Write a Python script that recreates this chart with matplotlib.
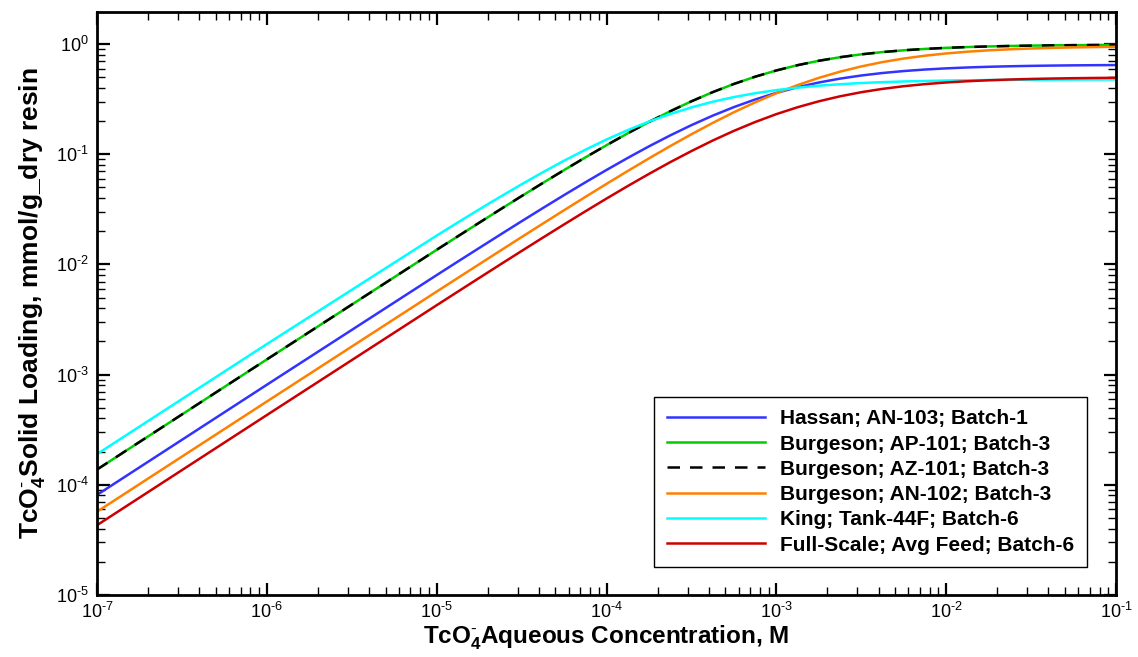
import matplotlib
matplotlib.use('Agg')
import matplotlib.pyplot as plt
from matplotlib.ticker import LogLocator, NullFormatter

plt.rcParams['font.family'] = ['Liberation Sans', 'DejaVu Sans']
plt.rcParams['mathtext.fontset'] = 'custom'
plt.rcParams['mathtext.rm'] = 'Liberation Sans'
plt.rcParams['mathtext.it'] = 'Liberation Sans:italic'
plt.rcParams['mathtext.bf'] = 'Liberation Sans:bold'
plt.rcParams['mathtext.default'] = 'regular'

# aqueous TcO4- concentration, M
conc = [1e-7, 1e-6,
        1e-5, 1.334e-5, 1.78e-5, 2.371e-5, 3.16e-5, 4.217e-5, 5.62e-5, 7.499e-5,
        1e-4, 1.334e-4, 1.78e-4, 2.371e-4, 3.16e-4, 4.217e-4, 5.62e-4, 7.499e-4,
        1e-3, 1.334e-3, 1.78e-3, 2.371e-3, 3.16e-3, 4.217e-3, 5.62e-3, 7.499e-3,
        1e-2, 1.334e-2, 1.78e-2, 2.371e-2, 3.16e-2, 4.217e-2, 5.62e-2, 7.499e-2,
        1e-1]

# solid loading, mmol/g dry resin
hassan_an103 = [8.10e-5, 8.09e-4,
                8.00e-3, 1.063e-2, 1.410e-2, 1.865e-2, 2.462e-2, 3.245e-2, 4.254e-2, 5.554e-2,
                0.0720, 0.0926, 0.1180, 0.1482, 0.1836, 0.2239, 0.2677, 0.3140,
                0.3606, 0.4058, 0.4480, 0.4856, 0.5183, 0.5461, 0.5688, 0.5872,
                0.6017, 0.6131, 0.6220, 0.6287, 0.6339, 0.6379, 0.6409, 0.6431,
                0.6448]
burgeson_ap101 = [1.376e-4, 1.374e-3,
                  1.357e-2, 1.802e-2, 2.390e-2, 3.159e-2, 4.166e-2, 5.482e-2, 7.173e-2, 9.345e-2,
                  0.1208, 0.1549, 0.1964, 0.2454, 0.3021, 0.3659, 0.4342, 0.5053,
                  0.5758, 0.6432, 0.7050, 0.7595, 0.8064, 0.8457, 0.8777, 0.9033,
                  0.9236, 0.9393, 0.9515, 0.9608, 0.9680, 0.9734, 0.9775, 0.9806,
                  0.9829]
burgeson_az101 = [1.376e-4, 1.374e-3,
                  1.357e-2, 1.802e-2, 2.390e-2, 3.159e-2, 4.166e-2, 5.482e-2, 7.173e-2, 9.345e-2,
                  0.1208, 0.1549, 0.1964, 0.2454, 0.3021, 0.3659, 0.4342, 0.5053,
                  0.5758, 0.6432, 0.7050, 0.7595, 0.8064, 0.8457, 0.8777, 0.9033,
                  0.9236, 0.9393, 0.9515, 0.9608, 0.9680, 0.9734, 0.9775, 0.9806,
                  0.9829]
burgeson_an102 = [5.70e-5, 5.70e-4,
                  5.669e-3, 7.547e-3, 1.004e-2, 1.333e-2, 1.769e-2, 2.346e-2, 3.101e-2, 4.094e-2,
                  5.383e-2, 7.049e-2, 9.180e-2, 0.1185, 0.1517, 0.1923, 0.2403, 0.2958,
                  0.3577, 0.4244, 0.4934, 0.5614, 0.6263, 0.6861, 0.7387, 0.7840,
                  0.8217, 0.8524, 0.8771, 0.8964, 0.9114, 0.9231, 0.9321, 0.9389,
                  0.9441]
king_44f = [1.899e-4, 1.893e-3,
            1.827e-2, 2.407e-2, 3.159e-2, 4.117e-2, 5.334e-2, 6.862e-2, 8.728e-2, 0.1098,
            0.1360, 0.1656, 0.1981, 0.2319, 0.2661, 0.2994, 0.3302, 0.3579,
            0.3819, 0.4022, 0.4188, 0.4321, 0.4428, 0.4511, 0.4575, 0.4625,
            0.4663, 0.4692, 0.4713, 0.4730, 0.4742, 0.4752, 0.4759, 0.4764,
            0.4768]
fullscale_avg = [4.30e-5, 4.296e-4,
                 4.263e-3, 5.671e-3, 7.539e-3, 9.992e-3, 1.323e-2, 1.750e-2, 2.305e-2, 3.029e-2,
                 3.960e-2, 5.146e-2, 6.638e-2, 8.469e-2, 0.1068, 0.1331, 0.1629, 0.1960,
                 0.2312, 0.2671, 0.3024, 0.3355, 0.3655, 0.3919, 0.4143, 0.4329,
                 0.4479, 0.4599, 0.4693, 0.4766, 0.4823, 0.4866, 0.4899, 0.4924,
                 0.4943]

x_ticks = [1e-7, 1e-6, 1e-5, 1e-4, 1e-3, 1e-2, 1e-1]
x_tick_labels = [r'$10^{\text{-7}}$', r'$10^{\text{-6}}$', r'$10^{\text{-5}}$', r'$10^{\text{-4}}$',
                 r'$10^{\text{-3}}$', r'$10^{\text{-2}}$', r'$10^{\text{-1}}$']
y_ticks = [1e-5, 1e-4, 1e-3, 1e-2, 1e-1, 1e0]
y_tick_labels = [r'$10^{\text{-5}}$', r'$10^{\text{-4}}$', r'$10^{\text{-3}}$', r'$10^{\text{-2}}$',
                 r'$10^{\text{-1}}$', r'$10^{0}$']

fig = plt.figure(figsize=(11.38, 6.57), dpi=100)
ax = fig.add_axes([97/1138, 1 - 595/657, 1019/1138, 583/657])

lw = 1.8
ax.plot(conc, hassan_an103, color='#3333ff', lw=lw, label='Hassan; AN-103; Batch-1')
ax.plot(conc, burgeson_ap101, color='#00cc00', lw=lw, label='Burgeson; AP-101; Batch-3')
ax.plot(conc, burgeson_az101, color='black', lw=lw, dashes=(5, 4), label='Burgeson; AZ-101; Batch-3')
ax.plot(conc, burgeson_an102, color='#ff8000', lw=lw, label='Burgeson; AN-102; Batch-3')
ax.plot(conc, king_44f, color='#00ffff', lw=lw, label='King; Tank-44F; Batch-6')
ax.plot(conc, fullscale_avg, color='#cc0000', lw=lw, label='Full-Scale; Avg Feed; Batch-6')

ax.set_xscale('log')
ax.set_yscale('log')
ax.set_xlim(1e-7, 1e-1)
ax.set_ylim(1e-5, 1.954)

ax.set_xticks(x_ticks)
ax.set_xticklabels(x_tick_labels)
ax.set_yticks(y_ticks)
ax.set_yticklabels(y_tick_labels)
ax.xaxis.set_minor_locator(LogLocator(base=10, subs=range(2, 10), numticks=20))
ax.yaxis.set_minor_locator(LogLocator(base=10, subs=range(2, 10), numticks=20))
ax.xaxis.set_minor_formatter(NullFormatter())
ax.yaxis.set_minor_formatter(NullFormatter())

ax.tick_params(which='both', direction='in', top=True, right=True, labelsize=13)
ax.tick_params(which='major', length=9, width=1.6)
ax.tick_params(which='minor', length=5.5, width=1)
ax.tick_params(axis='x', pad=5)
ax.tick_params(axis='y', pad=6)
for s in ax.spines.values():
    s.set_linewidth(2)

ax.set_xlabel(r'TcO$_4^{\text{-}}$Aqueous Concentration, M', fontsize=17.5, fontweight='bold', labelpad=1)
ax.set_ylabel(r'TcO$_4^{\text{-}}$Solid Loading, mmol/g_dry resin', fontsize=19, fontweight='bold', labelpad=6)

leg = ax.legend(loc='lower right', bbox_to_anchor=(0.9715, 0.048), borderaxespad=0,
                fancybox=False, edgecolor='black', framealpha=1,
                prop={'weight': 'bold', 'size': 15}, handlelength=4.7, handletextpad=0.75,
                labelspacing=0.3, borderpad=0.6)
leg.get_frame().set_linewidth(1.0)

plt.savefig('out.png', dpi=100)
